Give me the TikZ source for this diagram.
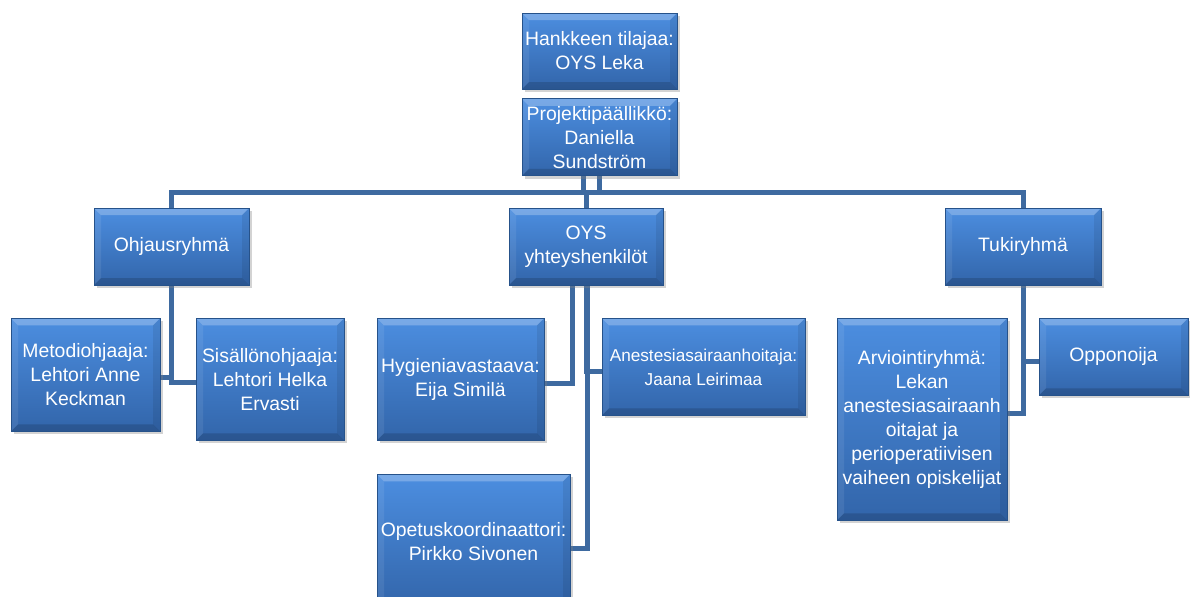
\documentclass[tikz,border=0pt]{standalone}
\usepackage{fontspec}
\setmainfont{Liberation Sans}
\usepackage{xcolor}
\usetikzlibrary{positioning,shadows,backgrounds}
\definecolor{BoxTop}{RGB}{76,142,224}
\definecolor{BoxBot}{RGB}{50,101,170}
\definecolor{BoxEdge}{RGB}{38,82,138}
\definecolor{LineBlue}{RGB}{62,106,160}

\begin{document}
\begin{tikzpicture}[
    x=0.5pt, y=-0.5pt,
    org/.style={rectangle, draw=BoxEdge, line width=0.4pt,
                top color=BoxTop, bottom color=BoxBot, text=white,
                inner sep=0pt, align=center,
                font=\fontsize{9.7}{12}\selectfont,
                drop shadow={opacity=0.35, shadow xshift=1.5pt, shadow yshift=-1.5pt},
                path picture={
                  \fill[white, opacity=0.25] (path picture bounding box.north west)
                    -- (path picture bounding box.north east)
                    -- ([xshift=-3.5pt, yshift=-3.5pt]path picture bounding box.north east)
                    -- ([xshift=3.5pt, yshift=-3.5pt]path picture bounding box.north west) -- cycle;
                  \fill[white, opacity=0.08] (path picture bounding box.north west)
                    -- (path picture bounding box.south west)
                    -- ([xshift=3.5pt, yshift=3.5pt]path picture bounding box.south west)
                    -- ([xshift=3.5pt, yshift=-3.5pt]path picture bounding box.north west) -- cycle;
                  \fill[black, opacity=0.08] (path picture bounding box.north east)
                    -- (path picture bounding box.south east)
                    -- ([xshift=-3.5pt, yshift=3.5pt]path picture bounding box.south east)
                    -- ([xshift=-3.5pt, yshift=-3.5pt]path picture bounding box.north east) -- cycle;
                  \fill[black, opacity=0.15] (path picture bounding box.south west)
                    -- (path picture bounding box.south east)
                    -- ([xshift=-3.5pt, yshift=3.5pt]path picture bounding box.south east)
                    -- ([xshift=3.5pt, yshift=3.5pt]path picture bounding box.south west) -- cycle;
                }},
    conn/.style={draw=LineBlue, line width=2.5pt}
]
    \useasboundingbox (0,0) rectangle (1190,596);

    \node[org, minimum width=77.5pt, minimum height=38pt] (tilaaja) at (599.5,51)
        {Hankkeen tilajaa:\\OYS Leka};
    \node[org, minimum width=77.5pt, minimum height=38.5pt, below=4.5pt of tilaaja] (pp)
        {Projektipäällikkö:\\Daniella\\Sundström};

    \node[org, minimum width=77.5pt, minimum height=38.5pt] (ohj) at (171.5,246.5) {Ohjausryhmä};
    \node[org, minimum width=77pt, minimum height=38.5pt] (oys) at (586,246.5) {OYS\\yhteyshenkilöt};
    \node[org, minimum width=78pt, minimum height=38.5pt] (tuki) at (1023,246.5) {Tukiryhmä};

    \node[org, anchor=north, minimum width=74.5pt, minimum height=56.5pt] (met) at (85.5,318)
        {Metodiohjaaja:\\Lehtori Anne\\Keckman};
    \node[org, anchor=north, minimum width=74pt, minimum height=61pt] (sis) at (270,318)
        {Sisällönohjaaja:\\Lehtori Helka\\Ervasti};
    \node[org, anchor=north, minimum width=83.5pt, minimum height=61pt] (hyg) at (460.5,318)
        {Hygieniavastaava:\\Eija Similä};
    \node[org, anchor=north, minimum width=101.5pt, minimum height=48.5pt,
          font=\fontsize{8.6}{12}\selectfont] (ane) at (703.5,318)
        {Anestesiasairaanhoitaja:\\Jaana Leirimaa};
    \node[org, anchor=north, minimum width=96.5pt, minimum height=67pt] (ope) at (473.5,474)
        {Opetuskoordinaattori:\\Pirkko Sivonen};
    \node[org, anchor=north, minimum width=85pt, minimum height=101pt] (arv) at (922,318)
        {Arviointiryhmä:\\Lekan\\anestesiasairaanh\\oitajat ja\\perioperatiivisen\\vaiheen opiskelijat};
    \node[org, anchor=north, minimum width=74.5pt, minimum height=38.5pt] (opp) at (1113.5,318)
        {Opponoija};

    \coordinate (bar) at (599,192);

    \begin{scope}[on background layer]
        \draw[conn] ([xshift=-8pt]pp.south) -- ([xshift=-8pt]pp.south |- bar);
        \draw[conn] (pp.south) -- (pp.south |- bar);
        \draw[conn] (ohj.north) |- (bar) -| (tuki.north);
        \draw[conn] (oys.north) -- (oys.north |- bar);

        \draw[conn] (ohj.south) |- ([yshift=-1.5pt]met.east);
        \draw[conn] (ohj.south) |- ([yshift=-1.5pt]sis.west);

        \draw[conn] ([xshift=-7pt]oys.south) |- ([yshift=-2pt]hyg.east);
        \draw[conn] (oys.south) |- ([yshift=-2.5pt]ane.west);
        \draw[conn] ([xshift=0.5pt]oys.south) |- ([yshift=-3.5pt]ope.east);

        \draw[conn] (tuki.south) |- ([yshift=3pt]arv.east);
        \draw[conn] (tuki.south) |- ([yshift=-2.5pt]opp.west);
    \end{scope}
\end{tikzpicture}
\end{document}
